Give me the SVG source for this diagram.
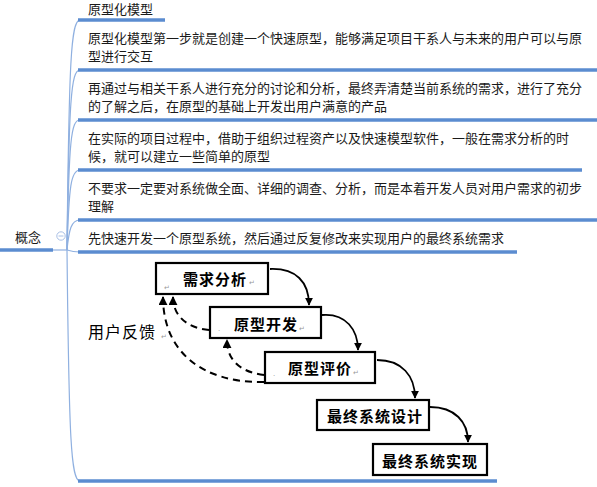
<svg xmlns="http://www.w3.org/2000/svg" width="597" height="487" viewBox="0 0 597 487">
<style>
.t{font-family:"Microsoft YaHei","Noto Sans CJK SC","Noto Sans",sans-serif;font-size:13px;fill:#1a1a1a}
.thin{fill:none;stroke:#8fb0e0;stroke-width:1.2}
.ul{stroke:#5b8cd0;stroke-width:3.5;fill:none}
.box{fill:#fff;stroke:#000;stroke-width:2.2}
.bt{font-family:"Noto Sans CJK SC","Noto Sans",sans-serif;font-size:15px;font-weight:bold;fill:#000;letter-spacing:1px}
.fl{font-family:"Noto Sans CJK SC","Noto Sans",sans-serif;font-size:16px;fill:#000;letter-spacing:1px}
.rm{font-family:"DejaVu Sans",sans-serif;font-size:7px;fill:#999}
.arr{fill:none;stroke:#000;stroke-width:1.8}
.dash{fill:none;stroke:#000;stroke-width:2;stroke-dasharray:7,5}
</style>
<defs>
<marker id="ah" viewBox="0 0 10 10" refX="9" refY="5" markerWidth="4.5" markerHeight="4.5" orient="auto" markerUnits="strokeWidth">
<path d="M0,0 L10,5 L0,10 z" fill="#000"/>
</marker>
</defs>

<g id="connectors">
<path class="thin" d="M67,250 C69,60 71,20 80,20"/>
<path class="thin" d="M67,250 C69,100 71,70 80,70"/>
<path class="thin" d="M67,250 C69,140 71,120 80,120"/>
<path class="thin" d="M67,250 C69,185 71,170 80,170"/>
<path class="thin" d="M67,250 C69,230 71,220 80,220"/>
<path class="thin" d="M67,250 C70,251 73,252 80,252"/>
<path class="thin" d="M67,250 C69,440 71,481 80,481"/>
<path class="thin" d="M53,250 L67,250"/>
</g>

<g id="root">
<line class="ul" x1="0" y1="250" x2="53" y2="250"/>
<text class="t" x="15" y="242">概念</text>
<circle cx="61" cy="236" r="4.2" fill="#fff" stroke="#a9c0e6" stroke-width="1"/>
<line x1="58.5" y1="236" x2="63.5" y2="236" stroke="#a9c0e6" stroke-width="1"/>
</g>

<g id="b1">
<line class="ul" x1="78" y1="20" x2="165" y2="20"/>
<text class="t" x="88" y="14">原型化模型</text>
</g>
<g id="b2">
<line class="ul" x1="78" y1="70" x2="597" y2="70"/>
<text class="t" x="88" y="43">原型化模型第一步就是创建一个快速原型，能够满足项目干系人与未来的用户可以与原</text>
<text class="t" x="88" y="61">型进行交互</text>
</g>
<g id="b3">
<line class="ul" x1="78" y1="120" x2="597" y2="120"/>
<text class="t" x="88" y="93">再通过与相关干系人进行充分的讨论和分析，最终弄清楚当前系统的需求，进行了充分</text>
<text class="t" x="88" y="111">的了解之后，在原型的基础上开发出用户满意的产品</text>
</g>
<g id="b4">
<line class="ul" x1="78" y1="170" x2="582" y2="170"/>
<text class="t" x="88" y="143">在实际的项目过程中，借助于组织过程资产以及快速模型软件，一般在需求分析的时</text>
<text class="t" x="88" y="161">候，就可以建立一些简单的原型</text>
</g>
<g id="b5">
<line class="ul" x1="78" y1="220" x2="597" y2="220"/>
<text class="t" x="88" y="193">不要求一定要对系统做全面、详细的调查、分析，而是本着开发人员对用户需求的初步</text>
<text class="t" x="88" y="211">理解</text>
</g>
<g id="b6">
<line class="ul" x1="78" y1="252" x2="517" y2="252"/>
<text class="t" x="88" y="243">先快速开发一个原型系统，然后通过反复修改来实现用户的最终系统需求</text>
</g>

<g id="b7">
<line class="ul" x1="78" y1="481" x2="497" y2="481"/>

<g id="flow-connectors">
<path class="arr" d="M270,269 C296,268 309,282 309,305" marker-end="url(#ah)"/>
<path class="arr" d="M322,315 C346,313 358,330 358,350" marker-end="url(#ah)"/>
<path class="arr" d="M377,360 C402,360 415,376 415,398" marker-end="url(#ah)"/>
<path class="arr" d="M430,407 C455,407 468,422 468,442" marker-end="url(#ah)"/>
<path class="dash" d="M209,330 C186,328 173,315 173,297" marker-end="url(#ah)"/>
<path class="dash" d="M264,375 C240,372 227,360 227,340" marker-end="url(#ah)"/>
<path class="dash" d="M264,382 C200,383 163,350 163,297" marker-end="url(#ah)"/>
</g>

<g id="n-xqfx">
<rect class="box" x="156" y="263" width="112" height="31"/>
<text class="bt" x="183" y="285">需求分析</text>
<text class="rm" x="249" y="285">↵</text>
<text class="rm" x="164" y="290">↵</text>
</g>
<g id="n-yxkf">
<rect class="box" x="210" y="307" width="111" height="31"/>
<text class="bt" x="234" y="330">原型开发</text>
<text class="rm" x="299" y="331">↵</text>
<text class="rm" x="218" y="333">·</text>
</g>
<g id="n-yxpj">
<rect class="box" x="265" y="352" width="110" height="31"/>
<text class="bt" x="288" y="374">原型评价</text>
<text class="rm" x="353" y="375">↵</text>
<text class="rm" x="273" y="378">·</text>
</g>
<g id="n-zzsj">
<rect class="box" x="317" y="400" width="112" height="30"/>
<text class="bt" x="327" y="422">最终系统设计</text>
</g>
<g id="n-zzsx">
<rect class="box" x="373" y="444" width="114" height="31"/>
<text class="bt" x="382" y="467">最终系统实现</text>
</g>
<g id="feedback-label">
<text class="fl" x="88" y="338">用户反馈</text>
<text class="rm" x="161" y="339">↵</text>
</g>
</g>
</svg>
